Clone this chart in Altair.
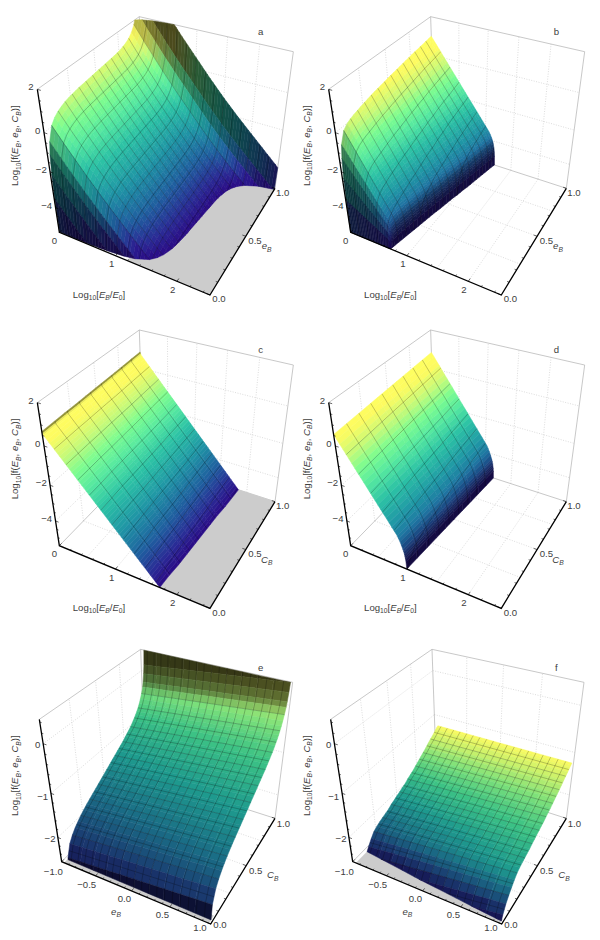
import numpy as np
import pandas as pd
import altair as alt

# ---------- axis ranges ----------
ZF, ZT = -5.5, 2.0
EMAX = 2.5
ZF2, ZT2 = -2.6, 0.45

# ---------- surface data ----------
ROWS = [0,.004,.01,.02,.033,.067,.1,.133,.167,.2,.233,.267,.3,.333,.367,.4,.433,.467,.5,.533,.567,.6,.633,.667,.7,.733,.767,.8,.833,.867,.9,.933,.967,.985,1]
ROWS_E = [0,.004,.01,.02,.033,.067,.1,.133,.167,.2,.233,.267,.3,.333,.367,.4,.433,.467,.5,.533,.567,.6,.633,.667,.7,.733,.767,.8,.833,.867,.883,.9,.917,.933,.95,.967,.975,.985,.992,1]
ROWS_CD = [0,.1,.2,.3,.4,.5,.6,.7,.8,.9,1]

# a: z at E=0 for every e_B row, and the fall with E along the E grid
G_A = [-9,-3.5,-2.2,-1.2,-.6,.05,.3,.45,.55,.63,.68,.72,.75,.78,.8,.82,.84,.86,.88,.9,.92,.94,.96,.98,1.0,1.03,1.07,1.13,1.2,1.32,1.5,1.8,2.4,3.1,4.5]
E_GRID = [0,.05,.1,.15,.2,.25,.3,.35,.4,.45,.5,.55,.6,.65,.7,.75,.8,.85,.9,.95,1,1.05,1.1,1.15,1.2,1.25,1.3,1.35,1.4,1.45,1.5,1.55,1.6,1.65,1.7,1.75,1.8,1.85,1.9,1.95,2,2.05,2.1,2.15,2.2,2.25,2.3,2.35,2.4,2.45,2.5]
H_A = [0,-.22,-.43,-.64,-.85,-1.05,-1.25,-1.45,-1.65,-1.85,-2.05,-2.24,-2.43,-2.62,-2.81,-3.0,-3.18,-3.36,-3.54,-3.72,-3.9,-4.08,-4.26,-4.44,-4.62,-4.8,-4.97,-5.14,-5.31,-5.48,-5.65,-5.81,-5.97,-6.13,-6.29,-6.45,-6.6,-6.75,-6.9,-7.05,-7.2,-7.35,-7.5,-7.65,-7.8,-7.95,-8.1,-8.25,-8.4,-8.55,-8.7]

# b: z at E=0, cut-off energy per row, fall-off shape along the row
G_B = [-9,-3.6,-2.4,-1.4,-.75,-.2,-.02,.08,.15,.2,.26,.31,.35,.4,.44,.47,.51,.54,.58,.61,.64,.67,.7,.73,.76,.79,.82,.85,.87,.9,.92,.95,.97,.99,1.0]
EC_B = [.72,.72,.725,.73,.735,.75,.765,.78,.795,.81,.825,.84,.855,.87,.885,.9,.92,.935,.95,.965,.98,1.0,1.015,1.03,1.05,1.065,1.08,1.095,1.11,1.125,1.14,1.155,1.17,1.18,1.19]
U = [0,.04,.08,.12,.16,.2,.24,.28,.32,.36,.4,.44,.48,.52,.56,.6,.64,.68,.72,.76,.8,.84,.88,.9,.92,.94,.96,.97,.98,.985,.99,.995,1]
P_B = [1,.969,.938,.907,.876,.845,.814,.783,.752,.721,.69,.659,.628,.597,.566,.535,.504,.473,.442,.411,.38,.349,.318,.3,.28,.255,.225,.2,.17,.15,.125,.085,0]

# c
G_C = [.6,.62,.64,.65,.67,.69,.7,.72,.74,.76,.78]
EC_C = [1.73,1.74,1.76,1.77,1.78,1.79,1.8,1.81,1.83,1.84,1.85]
U_C = [0,.004,.01,.02,.04,.06,.08,.1,.12,.14,.16,.18,.2,.22,.24,.26,.28,.3,.32,.34,.36,.38,.4,.42,.44,.46,.48,.5,.52,.54,.56,.58,.6,.62,.64,.66,.68,.7,.72,.74,.76,.78,.8,.82,.84,.86,.88,.9,.92,.94,.96,.98,1]
P_C = [1.015,1.0,.99,.98,.96,.94,.92,.9,.88,.86,.84,.82,.8,.78,.76,.74,.72,.7,.68,.66,.64,.62,.6,.58,.56,.54,.52,.5,.48,.46,.44,.42,.4,.38,.36,.34,.32,.3,.28,.26,.24,.22,.2,.18,.16,.14,.12,.1,.08,.06,.04,.02,0]

# d
G_D = [.55,.58,.61,.64,.67,.7,.73,.76,.79,.82,.85]
EC_D = [1.0,1.017,1.034,1.051,1.068,1.085,1.102,1.119,1.136,1.153,1.17]
P_D = [1,.968,.936,.905,.873,.841,.809,.777,.746,.714,.682,.65,.618,.587,.555,.523,.491,.459,.428,.396,.364,.332,.3,.275,.25,.22,.185,.165,.14,.12,.1,.07,0]

# e and f: z along C_B per row, change along e_B per column
EB_COLS = [-.95,-.76,-.57,-.38,-.19,0,.2,.39,.59,.78,.98]
PROF_E = [-4.5,-4.2,-3.8,-3.2,-2.55,-2.28,-2.15,-2.05,-1.97,-1.9,-1.84,-1.78,-1.73,-1.68,-1.63,-1.58,-1.53,-1.48,-1.43,-1.38,-1.33,-1.28,-1.23,-1.18,-1.13,-1.07,-1.01,-.95,-.87,-.78,-.73,-.67,-.6,-.52,-.42,-.3,-.2,-.03,.15,.6]
K_E = [0,.03,.06,.09,.12,.15,.18,.21,.24,.27,.3]
PROF_F = [-2.3,-2.2,-2.05,-1.9,-1.78,-1.55,-1.4,-1.27,-1.15,-1.05,-1.0,-.96,-.93,-.9,-.87,-.82,-.79,-.75,-.72,-.68,-.65,-.6,-.56,-.52,-.47,-.42,-.37,-.32,-.27,-.21,-.16,-.11,-.05,-.02,0]
S_F = [1,.97,.94,.91,.88,.85,.82,.79,.76,.73,.7]
Z_TOP_F = -1.25

# ---------- palettes ----------
PAL_T = [0,.08,.2,.35,.5,.62,.72,.82,.92,1]
PAL_C = ['#2a0a85','#2a2a95','#1f5f9f','#1f95a5','#2cc2a5','#55e8a0','#7cfc90','#c8fa78','#fdfb60','#ffff60']
PAL2_T = [0,.15,.3,.45,.6,.75,.88,1]
PAL2_C = ['#15104f','#1a3a70','#1a6a85','#1e9a8e','#3cc285','#7de07a','#c4f06c','#fbfb60']
def rgb(cs): return np.array([[int(c[i:i+2],16) for i in (1,3,5)] for c in cs],float)
PAL, PAL2 = rgb(PAL_C), rgb(PAL2_C)

def colour(t, nz, second=False):
    t = min(max(t,0),1)
    T,A = (PAL2_T,PAL2) if second else (PAL_T,PAL)
    c = [np.interp(t,T,A[:,k]) for k in range(3)]
    s = min(max((.4-.3*t)+1.8*nz,0),1)
    return '#%02x%02x%02x' % tuple(int(round(v*s)) for v in c)

# ---------- cameras: pixel corners in crop coordinates ----------
def camera(c, off):
    X = {'A':(0,0,0),'B':(1,0,0),'C':(1,1,0),'a':(0,0,1),'d':(0,1,1),'c':(1,1,1)}
    M = []
    for k,(x,y,z) in X.items():
        u,v = c[k][0]/3+off[0], c[k][1]/3+off[1]
        M.append([x,y,z,1,0,0,0,0,-u*x,-u*y,-u*z,-u])
        M.append([0,0,0,0,x,y,z,1,-v*x,-v*y,-v*z,-v])
    return np.linalg.svd(np.array(M,float))[2][-1].reshape(3,4)

C_TOP = dict(A=(178,697),B=(630,885),C=(825,565),a=(112,268),d=(418,50),c=(880,155))
C_BOT = dict(A=(185,695),B=(632,882),C=(825,565),a=(118,268),d=(422,58),c=(878,157))
def shift(c,dx,dy): return {k:(v[0]+dx,v[1]+dy) for k,v in c.items()}
C_BOTF = dict(A=(158,695),B=(605,882),C=(799,565),a=(92,268),d=(396,58),c=(852,157))

class Panel:
    def __init__(s, cam, xr, zr, rows, X, Z, tr, xstep, ystep, second=False):
        s.P, s.xr, s.zr, s.rows, s.X, s.Z, s.tr, s.xstep, s.ystep = cam, xr, zr, rows, np.array(X,float), np.array(Z,float), tr, xstep, ystep
        s.second = second
    def norm(s,p):
        return np.array([(p[0]-s.xr[0])/(s.xr[1]-s.xr[0]), p[1], (p[2]-s.zr[0])/(s.zr[1]-s.zr[0])])
    def px(s,p):
        n = s.norm(p)
        w = s.P @ np.array([n[0],n[1],n[2],1.0])
        return [round(float(w[0]/w[2]),2), round(float(w[1]/w[2]),2)]

def clip_poly(poly, ax, val, keep_ge):
    out = []
    for i in range(len(poly)):
        a,b = poly[i], poly[(i+1)%len(poly)]
        ia = a[ax]>=val if keep_ge else a[ax]<=val
        ib = b[ax]>=val if keep_ge else b[ax]<=val
        if ia: out.append(a)
        if ia!=ib:
            t=(val-a[ax])/(b[ax]-a[ax])
            out.append(tuple(a[k]+t*(b[k]-a[k]) for k in range(3)))
    return out

def clip_seg(a,b,lims):
    t0,t1=0.0,1.0
    for ax,lo,hi in lims:
        d=b[ax]-a[ax]
        for sgn,lim in ((1,hi),(-1,lo)):
            q=sgn*(lim-a[ax]); pp=sgn*d
            if abs(pp)<1e-12:
                if q<0: return None
            else:
                r=q/pp
                if pp>0: t1=min(t1,r)
                else: t0=max(t0,r)
    if t0>=t1: return None
    f=lambda t:tuple(a[k]+t*(b[k]-a[k]) for k in range(3))
    return f(t0),f(t1)

cells, meshes = [], []

def build(pn):
    X,Z,R = pn.X,pn.Z,pn.rows
    xa,xb = pn.xr; za,zb = pn.zr
    nj,ni = len(R)-1, X.shape[1]-1
    NZ = np.zeros((nj,ni))
    for j in range(nj):
        for i in range(ni):
            n=[pn.norm(p) for p in [(X[j][i],R[j],min(Z[j][i],zb+1)),(X[j][i+1],R[j],min(Z[j][i+1],zb+1)),(X[j+1][i+1],R[j+1],min(Z[j+1][i+1],zb+1)),(X[j+1][i],R[j+1],min(Z[j+1][i],zb+1))]]
            cr=np.cross(n[2]-n[0],n[3]-n[1])
            NZ[j,i]=abs(cr[2])/(np.linalg.norm(cr)+1e-12)
    # smooth shading across neighbouring cells
    pad=np.pad(NZ,1,mode='edge')
    NS=(pad[:-2,1:-1]+pad[2:,1:-1]+pad[1:-1,:-2]+pad[1:-1,2:]+2*NZ)/6
    for j in range(nj,0,-1):
        for i in range(ni):
            q=[(X[j-1][i],R[j-1],Z[j-1][i]),(X[j-1][i+1],R[j-1],Z[j-1][i+1]),(X[j][i+1],R[j],Z[j][i+1]),(X[j][i],R[j],Z[j][i])]
            poly=q
            for ax,val,ge in ((2,za,True),(2,zb,False),(0,xb,False),(0,xa,True)):
                if poly: poly=clip_poly(poly,ax,val,ge)
            if len(poly)<3: continue
            zm=sum(p[2] for p in poly)/len(poly)
            t=(zm-pn.tr[0])/(pn.tr[1]-pn.tr[0])
            ring=[pn.px(p) for p in poly]; ring.append(ring[0])
            cells.append({'type':'Feature','geometry':{'type':'Polygon','coordinates':[ring]},'properties':{'c':colour(t,NS[j-1,i],pn.second)}})
    lims=[(0,xa,xb),(2,za,zb)]
    def add(pts):
        segs=[]
        for a,b in zip(pts[:-1],pts[1:]):
            r=clip_seg(a,b,lims)
            if r: segs.append([pn.px(r[0]),pn.px(r[1])])
        if segs: meshes.append({'type':'Feature','geometry':{'type':'MultiLineString','coordinates':segs},'properties':{}})
    xv=xa+pn.xstep
    while xv<xb-1e-6:
        pts=[]
        for j in range(len(R)):
            if X[j][0]<=xv<=X[j][-1]:
                pts.append((xv,R[j],float(np.interp(xv,X[j],Z[j]))))
        if len(pts)>1: add(pts)
        xv+=pn.xstep
    yv=pn.ystep
    while yv<1-1e-6:
        j=int(np.searchsorted(R,yv))
        t=(yv-R[j-1])/(R[j]-R[j-1])
        xs=X[j-1]+t*(X[j]-X[j-1]); zs=Z[j-1]+t*(Z[j]-Z[j-1])
        add([(float(a),yv,float(b)) for a,b in zip(xs,zs)])
        yv+=pn.ystep

def sheared(g,ec,u,p):
    return [[e*ui for ui in u] for e in ec], [[ZF+max(gj-ZF,0)*pi for pi in p] for gj in g]

OFF = dict(a=(0,0),b=(300,0),c=(0,320),d=(300,320),e=(0,630),f=(300,630))
CAM = dict(a=camera(C_TOP,OFF['a']),b=camera(shift(C_TOP,-26,0),OFF['b']),c=camera(shift(C_TOP,0,-20),OFF['c']),d=camera(shift(C_TOP,-26,-20),OFF['d']),e=camera(C_BOT,OFF['e']),f=camera(C_BOTF,OFF['f']))

PN={}
PN['a']=Panel(CAM['a'],(0,EMAX),(ZF,ZT),ROWS,[E_GRID for _ in ROWS],[[g+h for h in H_A] for g in G_A],(ZF,ZT),1/6,1/15)
x,z=sheared(G_B,EC_B,U,P_B); PN['b']=Panel(CAM['b'],(0,EMAX),(ZF,ZT),ROWS,x,z,(ZF,1.0),1/6,1/15)
x,z=sheared(G_C,EC_C,U_C,P_C); PN['c']=Panel(CAM['c'],(0,EMAX),(ZF,ZT),ROWS_CD,x,z,(ZF,.8),1/6,1/9)
x,z=sheared(G_D,EC_D,U,P_D); PN['d']=Panel(CAM['d'],(0,EMAX),(ZF,ZT),ROWS_CD,x,z,(ZF,.85),1/6,1/9)
PN['e']=Panel(CAM['e'],(-1,1),(ZF2,ZT2),ROWS_E,[EB_COLS for _ in ROWS_E],[[p+k for k in K_E] for p in PROF_E],(ZF2,ZT2),.1,.05,True)
PN['f']=Panel(CAM['f'],(-1,1),(ZF2,ZT2),ROWS,[EB_COLS for _ in ROWS],[[Z_TOP_F+p*s for s in S_F] for p in PROF_F],(ZF2,Z_TOP_F),.1,.05,True)
for pn in PN.values(): build(pn)

# ---------- box, grids, ticks ----------
def line(pts): return {'type':'Feature','geometry':{'type':'LineString','coordinates':pts},'properties':{}}
grid, box, axes, ticks, greys = [], [], [], [], []
GRID_TOP=dict(x=[.5,1,1.5,2],y=[.25,.5,.75],z=[-4,-2,0])
GRID_BOT=dict(x=[-.5,0,.5],y=[.25,.5,.75],z=[-2,-1,0])
TICK_TOP=dict(x=[i/5 for i in range(0,13)],xM=[0,1,2],y=[i/10 for i in range(11)],yM=[0,.5,1],z=[-5+i/2 for i in range(15)],zM=[-4,-2,0,2])
TICK_BOT=dict(x=[-1+i/10 for i in range(21)],xM=[-1,-.5,0,.5,1],y=[i/10 for i in range(11)],yM=[0,.5,1],z=[-2.4+i/5 for i in range(15)],zM=[-2,-1,0])
for k,pn in PN.items():
    xa,xb=pn.xr; za,zb=pn.zr
    G,T=(GRID_TOP,TICK_TOP) if k in 'abcd' else (GRID_BOT,TICK_BOT)
    for xv in G['x']:
        grid.append(line([pn.px((xv,0,za)),pn.px((xv,1,za))]))
        grid.append(line([pn.px((xv,1,za)),pn.px((xv,1,zb))]))
    for yv in G['y']:
        grid.append(line([pn.px((xa,yv,za)),pn.px((xb,yv,za))]))
        grid.append(line([pn.px((xa,yv,za)),pn.px((xa,yv,zb))]))
    for zv in G['z']:
        grid.append(line([pn.px((xa,0,zv)),pn.px((xa,1,zv))]))
        grid.append(line([pn.px((xa,1,zv)),pn.px((xb,1,zv))]))
    box.append(line([pn.px((xa,0,zb)),pn.px((xa,1,zb)),pn.px((xb,1,zb)),pn.px((xb,1,za)),pn.px((xa,1,za)),pn.px((xa,0,za))]))
    box.append(line([pn.px((xa,1,zb)),pn.px((xa,1,za))]))
    axes.append(line([pn.px((xa,0,zb)),pn.px((xa,0,za)),pn.px((xb,0,za)),pn.px((xb,1,za))]))
    dx=(xb-xa)
    for xv in T['x']:
        L=.022 if any(abs(xv-m)<1e-6 for m in T['xM']) else .012
        ticks.append(line([pn.px((xv,0,za)),pn.px((xv,L,za))]))
    for yv in T['y']:
        L=.022 if any(abs(yv-m)<1e-6 for m in T['yM']) else .012
        ticks.append(line([pn.px((xb,yv,za)),pn.px((xb-L*dx,yv,za))]))
    for zv in T['z']:
        L=.022 if any(abs(zv-m)<1e-6 for m in T['zM']) else .012
        ticks.append(line([pn.px((xa,0,zv)),pn.px((xa+L*dx,0,zv))]))

def grey(k,verts):
    pn=PN[k]; za=pn.zr[0]
    ring=[pn.px((a,b,za)) for a,b in verts]; ring.append(ring[0])
    greys.append({'type':'Feature','geometry':{'type':'Polygon','coordinates':[ring]},'properties':{}})
grey('a',[(1.2,0),(EMAX,0),(EMAX,1),(1.2,1)])
grey('c',[(EC_C[0],0),(EMAX,0),(EMAX,1),(EC_C[-1],1)])
grey('e',[(-.96,0),(.98,0),(.98,.06),(-.96,.06)])
grey('f',[(-.95,0),(.98,0),(.98,.03),(-.95,.16)])

# ---------- text ----------
W = {'L':.556,'o':.556,'g':.556,'[':.278,']':.278,'(':.333,')':.333,'f':.278,'E':.667,'e':.556,'C':.722,'B':.667,',':.278,' ':.278,'/':.278}
def tw(s,size): return sum(W.get(ch,.556) for ch in s)*size
LAB_E = [('Log',0,0),('10',1,0),('[',0,0),('E',0,1),('B',1,1),('/',0,0),('E',0,1),('0',1,0),(']',0,0)]
LAB_Z = [('Log',0,0),('10',1,0),('[f(',0,0),('E',0,1),('B',1,1),(', ',0,0),('e',0,1),('B',1,1),(', ',0,0),('C',0,1),('B',1,1),(')]',0,0)]
LAB_EB = [('e',0,1),('B',1,1)]
LAB_CB = [('C',0,1),('B',1,1)]
FS, SUB = 9.6, .7
segs=[]
def label(parts,cx,cy,rot=False,fs=FS):
    W_=sum(tw(t,fs*SUB if s else fs) for t,s,_ in parts)
    pos=-W_/2
    for t,s,it in parts:
        size=fs*SUB if s else fs
        d=.35*fs+(.25*fs if s else 0)
        if rot: segs.append(dict(px=cx+d,py=cy-pos,text=t,size=size,rot=1,it=it))
        else: segs.append(dict(px=cx+pos,py=cy+d,text=t,size=size,rot=0,it=it))
        pos+=tw(t,size)
lab=[]
def tl(k,items):
    ox,oy=OFF[k]
    for t,x,y in items: lab.append(dict(px=x/3+ox,py=y/3+oy,text=t))
TK_A=[('2',93,262),('0',113,392),('\u22122',124,510),('\u22124',140,618),('0',163,722),('1',335,793),('2',518,870),('0.0',657,898),('0.5',765,722),('1.0',848,578)]
TK_E=[('0',113,345),('\u22121',128,500),('\u22122',150,627),('\u22121.0',160,725),('\u22120.5',260,765),('0.0',373,808),('0.5',487,855),('1.0',600,895),('0.0',660,885),('0.5',767,722),('1.0',850,583)]
tl('a',TK_A+[('a',782,97)])
tl('b',[(t,x-26,y) for t,x,y in TK_A]+[('b',769,97)])
tl('c',[(t,x,y-20) for t,x,y in TK_A]+[('c',782,90)])
tl('d',[(t,x-26,y-20) for t,x,y in TK_A]+[('d',769,90)])
tl('e',TK_E+[('e',782,115)])
tl('f',[(t,x-27,y) for t,x,y in TK_E]+[('f',769,115)])
for k,dx,dy,sym in (('a',0,0,LAB_EB),('b',-26,0,LAB_EB),('c',0,-20,LAB_CB),('d',-26,-20,LAB_CB)):
    ox,oy=OFF[k]
    label(LAB_E,(297+dx)/3+ox,(883+dy)/3+oy)
    label(LAB_Z,(45+dx)/3+ox,(437+dy)/3+oy,rot=True)
    label(sym,(800+dx)/3+ox,(738+dy)/3+oy)
for k,dx in (('e',0),('f',-26)):
    ox,oy=OFF[k]
    label(LAB_Z,(45+dx)/3+ox,437/3+oy,rot=True)
    label(LAB_CB,(818+dx)/3+ox,735/3+oy)
    label(LAB_EB,(348+dx)/3+ox,845/3+oy)

# ---------- chart ----------
proj=dict(type='identity')
frame=[{'type':'Feature','geometry':{'type':'Polygon','coordinates':[[[8,8],[592,8],[592,932],[8,932],[8,8]]]},'properties':{}}]
def geo(data,**kw): return alt.Chart(alt.Data(values=data)).mark_geoshape(**kw).project(**proj)
TXT='#404040'
xs=alt.X('px:Q',scale=alt.Scale(domain=[8,592],nice=False,zero=False),axis=None)
ys=alt.Y('py:Q',scale=alt.Scale(domain=[932,8],nice=False,zero=False),axis=None)
segdf=pd.DataFrame(segs)
layers=[
 geo(frame,fill='#ffffff',opacity=0),
 geo(grid,filled=False,stroke='#c4c4c4',strokeWidth=.6,strokeDash=[1,1.5]),
 geo(box,filled=False,stroke='#b0b0b0',strokeWidth=.7),
 geo(greys,fill='#cccccc',stroke='#cccccc',strokeWidth=.3),
 alt.Chart(alt.Data(values=cells)).mark_geoshape(strokeWidth=.5).project(**proj).encode(fill=alt.Fill('properties.c:N',scale=None),stroke=alt.Stroke('properties.c:N',scale=None)),
 geo(meshes,filled=False,stroke='#000000',strokeWidth=.6,strokeOpacity=.38),
 geo(axes,filled=False,stroke='#000000',strokeWidth=1.3),
 geo(ticks,filled=False,stroke='#000000',strokeWidth=.6),
 alt.Chart(pd.DataFrame(lab)).mark_text(align='center',baseline='middle',font='Liberation Sans',fontSize=FS,color=TXT).encode(x=xs,y=ys,text='text:N'),
]
for rot in (0,1):
    for it in (0,1):
        d=segdf[(segdf.rot==rot)&(segdf.it==it)]
        layers.append(alt.Chart(d).mark_text(align='left',baseline='alphabetic',font='Liberation Sans',color=TXT,angle=270 if rot else 0,fontStyle='italic' if it else 'normal').encode(x=xs,y=ys,text='text:N',size=alt.Size('size:Q',scale=None)))
chart=alt.layer(*layers).properties(width=584,height=924,padding=0,autosize=alt.AutoSizeParams(type='none'),background='#ffffff').configure_view(stroke=None)
chart.save("out.html", embed_options={"renderer":"svg","actions":False})
